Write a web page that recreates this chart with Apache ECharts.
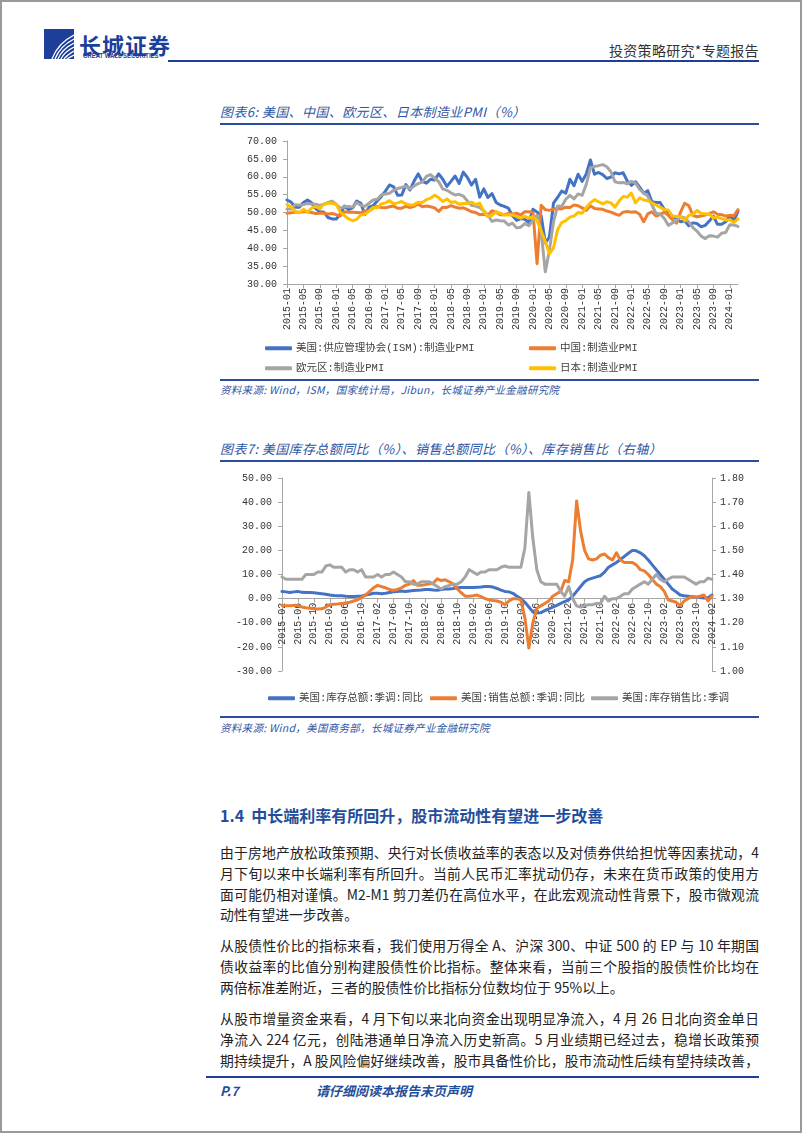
<!DOCTYPE html>
<html><head><meta charset="utf-8">
<script src="https://cdn.jsdelivr.net/npm/echarts@6/dist/echarts.min.js"></script>
<style>
html,body{margin:0;padding:0;background:#fff;}
#page{position:relative;width:802px;height:1133px;box-sizing:border-box;border:2px solid #9a9a9a;overflow:hidden;background:#fff;font-family:"Noto Sans CJK SC","Noto Sans",sans-serif;}
#chart{position:absolute;left:0;top:0;width:802px;height:1133px;}
.t{position:absolute;white-space:nowrap;}
.bar{position:absolute;background:#2a4c9c;}
.cap{color:#2d55a5;font-style:italic;font-size:13px;letter-spacing:0.4px;line-height:16px;}
.src{color:#2d55a5;font-style:italic;font-size:10.5px;line-height:14px;letter-spacing:0.3px;}
.para{position:absolute;left:218px;width:539px;font-size:13.8px;line-height:20.8px;color:#222;}
.para div{white-space:nowrap;text-align:justify;text-align-last:justify;}
.para div.last{text-align-last:left;}
</style></head>
<body>
<div id="page">
  <svg class="t" style="left:42px;top:27px" width="30" height="30" viewBox="0 0 30 30">
    <rect x="0" y="0" width="30" height="30" fill="#1d3f99"/>
    <g fill="none" stroke="#fff" stroke-width="1.3">
      <path d="M8 30 Q14 14 30 6"/><path d="M11 30 Q16 17 30 10"/><path d="M14 30 Q18 20 30 14"/>
      <path d="M17 30 Q20 23 30 18"/><path d="M20 30 Q23 26 30 22"/><path d="M23 30 Q26 28 30 26"/>
    </g>
  </svg>
  <div class="t" style="left:77px;top:28px;font-size:22px;line-height:28px;font-weight:700;color:#1d3f99;letter-spacing:1px;">长城证券</div>
  <div class="t" style="left:81px;top:49px;font-size:7.2px;line-height:9px;color:#1d3f99;font-family:'Liberation Sans',sans-serif;font-weight:700;transform:scaleX(0.82);transform-origin:left center;">GREAT WALL SECURITIES</div>
  <div class="bar" style="left:166px;top:58px;width:591px;height:2px;background:#1d3f99"></div>
  <div class="t" style="left:607px;top:39px;font-size:14px;line-height:18px;color:#333;letter-spacing:0.3px;">投资策略研究*专题报告</div>

  <div class="t cap" style="left:218px;top:102px;">图表6:&nbsp;美国、中国、欧元区、日本制造业PMI（%）</div>
  <div class="bar" style="left:218px;top:121px;width:539px;height:1.5px"></div>
  <div class="bar" style="left:218px;top:377px;width:539px;height:1.5px"></div>
  <div class="t src" style="left:218px;top:381px;">资料来源:&nbsp;Wind，ISM，国家统计局，Jibun，长城证券产业金融研究院</div>

  <div class="t cap" style="left:218px;top:439px;">图表7:&nbsp;美国库存总额同比（%）、销售总额同比（%）、库存销售比（右轴）</div>
  <div class="bar" style="left:218px;top:458px;width:539px;height:1.5px"></div>
  <div class="bar" style="left:218px;top:714px;width:539px;height:1.5px"></div>
  <div class="t src" style="left:218px;top:719px;">资料来源:&nbsp;Wind，美国商务部，长城证券产业金融研究院</div>

  <div class="t" style="left:218px;top:802px;font-size:16px;line-height:22px;font-weight:700;color:#1f4e9a;">1.4&nbsp;&nbsp;中长端利率有所回升，股市流动性有望进一步改善</div>

  <div class="para" style="top:840px;">
    <div>由于房地产放松政策预期、央行对长债收益率的表态以及对债券供给担忧等因素扰动，4</div>
    <div>月下旬以来中长端利率有所回升。当前人民币汇率扰动仍存，未来在货币政策的使用方</div>
    <div>面可能仍相对谨慎。M2-M1 剪刀差仍在高位水平，在此宏观流动性背景下，股市微观流</div>
    <div class="last">动性有望进一步改善。</div>
  </div>
  <div class="para" style="top:933px;">
    <div>从股债性价比的指标来看，我们使用万得全 A、沪深 300、中证 500 的 EP 与 10 年期国</div>
    <div>债收益率的比值分别构建股债性价比指标。整体来看，当前三个股指的股债性价比均在</div>
    <div class="last">两倍标准差附近，三者的股债性价比指标分位数均位于 95%以上。</div>
  </div>
  <div class="para" style="top:1006px;">
    <div>从股市增量资金来看，4 月下旬以来北向资金出现明显净流入，4 月 26 日北向资金单日</div>
    <div>净流入 224 亿元，创陆港通单日净流入历史新高。5 月业绩期已经过去，稳增长政策预</div>
    <div>期持续提升，A 股风险偏好继续改善，股市具备性价比，股市流动性后续有望持续改善，</div>
  </div>

  <div class="bar" style="left:204px;top:1074px;width:553px;height:2px;background:#1d3f99"></div>
  <div class="t" style="left:218px;top:1080px;font-size:13px;line-height:18px;font-weight:700;font-style:italic;color:#1f4e9a;">P.7</div>
  <div class="t" style="left:314px;top:1080px;font-size:13px;line-height:18px;font-weight:700;font-style:italic;color:#1f4e9a;">请仔细阅读本报告末页声明</div>

  <div id="chart"></div>
</div>
<script>
// ---------- Chart 6 data: manufacturing PMI, monthly 2015-01 .. 2024-03 ----------
const usPMI = [
  53.5,52.9,51.5,51.5,52.8,53.5,52.7,51.1,50.2,50.1,48.6,48.2,
  48.2,49.5,51.8,50.8,51.3,53.2,52.6,49.4,51.5,51.9,53.2,54.5,
  56.0,57.7,57.2,54.8,54.9,57.8,56.3,58.8,60.8,58.7,58.2,59.3,
  59.1,60.8,59.3,57.3,58.7,60.2,58.1,61.3,59.8,57.7,59.3,54.3,
  56.6,54.2,55.3,52.8,52.1,51.7,51.2,49.1,47.8,48.3,48.1,47.2,
  50.9,50.1,49.1,41.5,43.1,52.6,54.2,56.0,55.4,59.3,57.5,60.7,
  58.7,60.8,64.7,60.7,61.2,60.6,59.5,59.9,61.1,60.8,61.1,58.8,
  57.6,58.6,57.1,55.4,56.1,53.0,52.8,52.8,50.9,50.2,49.0,48.4,
  47.4,47.7,46.3,47.1,46.9,46.0,46.4,47.6,49.0,46.7,46.7,47.4,
  49.1,47.8,50.3];
const chinaPMI = [
  49.8,49.9,50.1,50.1,50.2,50.2,50.0,49.7,49.8,49.8,49.6,49.7,
  49.4,49.0,50.2,50.1,50.1,50.0,49.9,50.4,50.4,51.2,51.7,51.4,
  51.3,51.6,51.8,51.2,51.2,51.7,51.4,51.7,52.4,51.6,51.8,51.6,
  51.3,50.3,51.5,51.4,51.9,51.5,51.2,51.3,50.8,50.2,50.0,49.4,
  49.5,49.2,50.5,50.1,49.4,49.4,49.7,49.5,49.8,49.3,50.2,50.2,
  50.0,35.7,52.0,50.8,50.6,50.9,51.1,51.0,51.5,51.4,52.1,51.9,
  51.3,50.6,51.9,51.1,51.0,50.9,50.4,50.1,49.6,49.2,50.1,50.3,
  50.1,50.2,49.5,47.4,49.6,50.2,49.0,49.4,50.1,49.2,48.0,47.0,
  50.1,52.6,51.9,49.2,48.8,49.0,49.3,49.7,50.2,49.5,49.4,49.0,
  49.2,49.1,50.8];
const euroPMI = [
  51.0,51.0,52.2,52.0,52.2,52.5,52.4,52.3,52.0,52.3,52.8,53.2,
  52.3,51.2,51.6,51.7,51.5,52.8,52.0,51.7,52.6,53.5,53.7,54.9,
  55.2,55.4,56.2,56.7,57.0,57.4,56.6,57.4,58.1,58.5,60.1,60.6,
  59.6,58.6,56.6,56.2,55.5,54.9,55.1,54.6,53.2,52.0,51.8,51.4,
  50.5,49.3,47.5,47.9,47.7,47.6,46.5,47.0,45.7,45.9,46.9,46.3,
  47.9,49.2,44.5,33.4,39.4,47.4,51.8,51.7,53.7,54.8,53.8,55.2,
  54.8,57.9,62.5,62.9,63.1,63.4,62.8,61.4,58.6,58.3,58.4,58.0,
  58.7,58.2,56.5,55.5,54.6,52.1,49.8,49.6,48.4,46.4,47.1,47.8,
  48.8,48.5,47.3,45.8,44.8,43.4,42.7,43.5,43.4,43.1,44.2,44.4,
  46.6,46.5,46.1];
const japanPMI = [
  52.2,51.6,50.3,49.9,50.9,50.1,51.2,51.7,51.0,52.4,52.6,52.6,
  52.3,50.1,49.1,48.2,47.7,48.1,49.3,49.5,50.4,51.4,51.3,52.4,
  52.7,53.3,52.4,52.7,53.1,52.4,52.1,52.2,52.9,52.8,53.6,54.0,
  54.8,54.1,53.1,53.8,52.8,53.0,52.3,52.5,52.5,52.9,52.2,52.6,
  50.3,48.9,49.2,50.2,49.8,49.3,49.4,49.3,48.9,48.4,48.9,48.4,
  48.8,47.8,44.8,41.9,38.4,40.1,45.2,47.2,47.7,48.7,49.0,50.0,
  49.8,51.4,52.7,53.6,53.0,52.4,53.0,52.7,51.5,53.2,54.5,54.3,
  55.4,52.7,54.1,53.5,53.3,52.7,52.1,51.5,50.8,50.7,49.0,48.9,
  48.9,47.7,49.2,49.5,50.6,49.8,49.6,49.6,48.5,48.7,48.3,47.9,
  48.0,47.2,48.2];
const pmiNames = ['美国:供应管理协会(ISM):制造业PMI','中国:制造业PMI','欧元区:制造业PMI','日本:制造业PMI'];
const pmiTicks = [30, 70, 5];

// ---------- Chart 7 data: monthly 2015-02 .. 2024-02 ----------
const invYoY = [
  3.0,2.8,2.5,2.8,3.0,2.6,2.5,2.5,2.4,2.2,2.0,
  1.8,1.5,1.3,1.2,1.2,1.0,0.9,0.9,1.0,1.0,1.5,1.8,
  2.2,2.2,2.0,2.2,2.5,2.8,3.0,3.2,3.0,3.2,3.4,3.5,
  3.6,3.8,3.8,3.6,3.5,3.8,4.0,4.0,4.2,4.5,4.6,4.6,
  4.6,4.6,4.7,4.8,5.0,5.0,4.8,4.2,3.5,3.0,2.8,2.2,
  1.0,0.0,-1.5,-3.5,-5.5,-6.0,-5.8,-5.0,-4.3,-3.5,-2.8,-2.0,
  -1.2,-0.5,1.0,3.0,5.0,7.0,8.0,8.5,9.0,9.5,11.0,13.0,
  14.0,15.0,16.2,17.5,18.8,20.0,19.8,19.0,17.8,16.0,14.0,12.0,
  10.0,8.0,6.0,4.0,2.8,1.5,1.2,1.0,0.8,0.7,0.5,0.3,
  0.4,1.5];
const salesYoY = [
  -2.8,-3.0,-3.0,-2.8,-3.0,-3.5,-3.8,-4.0,-4.2,-4.3,-4.2,
  -3.5,-2.5,-2.3,-2.2,-2.0,-1.8,-1.5,-1.0,-0.5,0.5,1.5,3.0,
  4.5,5.5,5.0,4.5,3.8,3.5,3.8,4.5,5.5,6.0,7.5,5.5,
  5.5,5.8,6.2,6.5,8.2,7.5,7.8,7.0,6.0,4.0,2.5,1.0,
  1.0,1.2,1.5,0.8,0.0,-0.5,-0.8,-1.0,-1.5,-2.5,-1.0,0.0,
  0.0,-0.5,-8.0,-20.5,-10.0,-4.0,-3.0,-2.0,-1.0,1.0,2.0,3.0,
  7.5,7.0,16.0,40.5,28.0,20.0,16.5,16.0,16.5,18.0,18.5,17.0,
  16.0,19.0,16.0,15.0,15.0,15.0,14.0,12.0,11.5,10.0,8.0,6.0,
  5.0,3.0,-0.5,-1.0,-1.5,-3.0,-1.0,0.0,1.0,0.5,1.0,1.5,
  -1.0,1.0];
const isRatio = [
  1.39,1.38,1.38,1.38,1.38,1.38,1.40,1.40,1.40,1.41,1.41,
  1.435,1.44,1.43,1.43,1.43,1.41,1.42,1.42,1.41,1.42,1.39,1.39,
  1.39,1.40,1.39,1.40,1.40,1.41,1.40,1.39,1.37,1.37,1.36,1.36,
  1.37,1.37,1.37,1.36,1.35,1.34,1.35,1.355,1.36,1.36,1.37,1.39,
  1.42,1.41,1.40,1.41,1.41,1.42,1.42,1.42,1.43,1.435,1.43,1.43,
  1.43,1.43,1.51,1.74,1.55,1.42,1.37,1.36,1.36,1.36,1.36,1.33,
  1.31,1.35,1.30,1.27,1.265,1.27,1.275,1.275,1.28,1.28,1.31,1.29,
  1.30,1.30,1.31,1.32,1.32,1.34,1.35,1.36,1.37,1.36,1.38,1.40,
  1.38,1.37,1.38,1.39,1.39,1.39,1.39,1.38,1.37,1.36,1.37,1.37,
  1.385,1.38];
const invNames = ['美国:库存总额:季调:同比','美国:销售总额:季调:同比','美国:库存销售比:季调'];
const leftTicks = [-30, 50, 10];
const rightTicks = [1.0, 1.8, 0.1];

function monthLabels(y, m, n) {
  const out = [];
  for (let i = 0; i < n; i++) {
    out.push(y + '-' + String(m).padStart(2, '0'));
    m++; if (m > 12) { m = 1; y++; }
  }
  return out;
}
const pmiMonths = monthLabels(2015, 1, usPMI.length);
const invMonths = monthLabels(2015, 2, invYoY.length);

const C = {blue:'#4472C4', orange:'#ED7D31', gray:'#A5A5A5', yellow:'#FFC000'};
const AX = '#a6a6a6';
const numFont = "'Liberation Mono','Noto Sans CJK SC',monospace";
const lgFont = "'Liberation Mono','Noto Sans CJK SC',monospace";

const grid2 = {left:280, top:476, width:430, height:193};
// x-axis of chart 7 sits on the value 0 of the left axis
const zeroOffset = -grid2.height * (0 - leftTicks[0]) / (leftTicks[1] - leftTicks[0]);

function lg(name, left, top) {
  return {data:[name], left:left, top:top, icon:'roundRect', itemWidth:27, itemHeight:4, itemGap:0,
    textStyle:{fontFamily:lgFont, fontSize:10.5, color:'#404040', padding:[0,0,0,-1]}, selectedMode:false};
}
function line(name, data, color, xi, yi) {
  return {name:name, type:'line', data:data, xAxisIndex:xi, yAxisIndex:yi, showSymbol:false, symbol:'none',
    lineStyle:{width:3, color:color, cap:'round', join:'round'}, itemStyle:{color:color}, animation:false};
}

const chart = echarts.init(document.getElementById('chart'), null, {renderer:'canvas'});
chart.setOption({
  animation:false,
  grid:[
    {left:285, top:139, width:451, height:143},
    grid2
  ],
  legend:[
    lg(pmiNames[0], 258, 336), lg(pmiNames[1], 522, 336),
    lg(pmiNames[2], 258, 356), lg(pmiNames[3], 522, 356),
    lg(invNames[0], 261, 686), lg(invNames[1], 423, 686), lg(invNames[2], 584, 686)
  ],
  xAxis:[
    {type:'category', gridIndex:0, data:pmiMonths, boundaryGap:false,
     axisLine:{lineStyle:{color:AX}}, axisTick:{interval:3, length:4, lineStyle:{color:AX}},
     axisLabel:{interval:3, rotate:90, margin:4, fontFamily:numFont, fontSize:10, color:'#333'}},
    {type:'category', gridIndex:1, data:invMonths, boundaryGap:false, position:'bottom', offset:zeroOffset,
     axisLine:{onZero:false, lineStyle:{color:AX}}, axisTick:{interval:3, length:4, lineStyle:{color:AX}},
     axisLabel:{interval:3, rotate:90, margin:4, fontFamily:numFont, fontSize:10, color:'#333'}}
  ],
  yAxis:[
    {type:'value', gridIndex:0, min:pmiTicks[0], max:pmiTicks[1], interval:pmiTicks[2],
     axisLine:{show:true, lineStyle:{color:AX}}, axisTick:{show:true, length:4, lineStyle:{color:AX}},
     splitLine:{show:false},
     axisLabel:{margin:10, fontFamily:numFont, fontSize:10, color:'#333', formatter:v=>v.toFixed(2)}},
    {type:'value', gridIndex:1, position:'left', min:leftTicks[0], max:leftTicks[1], interval:leftTicks[2],
     axisLine:{show:true, onZero:false, lineStyle:{color:AX}}, axisTick:{show:true, length:4, lineStyle:{color:AX}},
     splitLine:{show:false},
     axisLabel:{margin:10, fontFamily:numFont, fontSize:10, color:'#333', formatter:v=>v.toFixed(2)}},
    {type:'value', gridIndex:1, position:'right', min:rightTicks[0], max:rightTicks[1], interval:rightTicks[2],
     axisLine:{show:true, onZero:false, lineStyle:{color:AX}}, axisTick:{show:true, length:4, lineStyle:{color:AX}},
     splitLine:{show:false},
     axisLabel:{margin:8, fontFamily:numFont, fontSize:10, color:'#333', formatter:v=>v.toFixed(2)}}
  ],
  series:[
    line(pmiNames[0], usPMI, C.blue, 0, 0),
    line(pmiNames[1], chinaPMI, C.orange, 0, 0),
    line(pmiNames[2], euroPMI, C.gray, 0, 0),
    line(pmiNames[3], japanPMI, C.yellow, 0, 0),
    line(invNames[0], invYoY, C.blue, 1, 1),
    line(invNames[1], salesYoY, C.orange, 1, 1),
    line(invNames[2], isRatio, C.gray, 1, 2)
  ]
});
</script>
</body></html>
